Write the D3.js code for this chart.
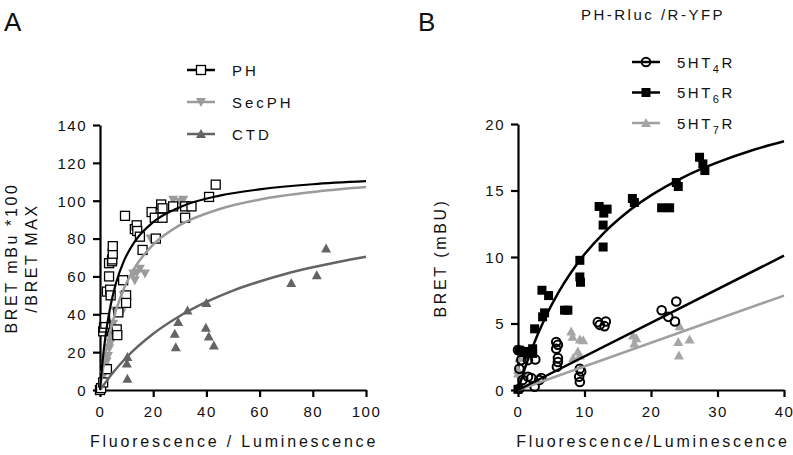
<!DOCTYPE html>
<html><head><meta charset="utf-8">
<script src="https://cdn.jsdelivr.net/npm/d3@7"></script>
<style>
body{margin:0;background:#fff;}
svg{font-family:"Liberation Sans",Arial,sans-serif;}
</style></head>
<body>
<svg id="c" width="793" height="455"></svg>
<script>
// ---------- Panel A data ----------
const phData = [[0,0],[0.4,1],[1.2,4],[2.6,11],[1.2,31],[1.5,33],[2,35],[1.9,38],[2.6,52],[3.8,53],[4,50],[3.4,60],[3.4,67],[4.5,68],[4.6,69],[4.8,72],[4.8,76],[6.3,32],[6.5,29],[6.9,41],[8.7,58],[9.8,50],[9.8,46],[9.4,92],[13.1,85],[13.8,87],[14,84],[15,81],[16,74],[19.4,94],[20.6,91],[21,80],[23,98],[23.5,96],[23.5,91],[27.5,97],[32,97],[32,91],[34.4,97],[41,102],[43.5,108.5]];
const secphData = [[0.5,1],[1,4],[1.5,8],[2,12],[2.5,15],[3,18],[3.5,22],[4,25],[4.3,28],[4.5,31],[5,35],[5.7,42],[8.1,41],[8.9,50],[12.5,61.5],[13.1,58],[13.8,62],[16.9,61.5],[15,64],[19,80],[27.5,100.5],[30,99.5],[31.3,100.5]];
const ctdData = [[10.3,17.4],[10.1,14],[10.3,5.9],[28.1,29.7],[28.5,22.6],[29.4,35.9],[32.9,42],[40,46],[39.8,32.9],[40.9,28.3],[42.8,23.5],[71.9,56.5],[81.5,60.6],[85,74.7]];
// fitted curves
const phFit = [[0,0],[0.5,8.4],[1,15.7],[2,27.6],[3,37.1],[4,44.8],[6,56.4],[9,68.2],[13,78.3],[20,88.7],[30,96.6],[45,102.7],[60,106],[80,108.7],[100,110.3]];
const secphFit = [[0,0],[0.5,5.2],[1,9.9],[2,18.3],[3,25.5],[4,31.7],[6,42],[9,53.6],[13,64.5],[20,76.8],[30,87.1],[45,95.6],[60,100.6],[80,104.6],[100,107.2]];
const ctdFit = [[0,0],[5,9.4],[10,17.3],[20,29.7],[30,39.1],[40,46.5],[50,52.5],[60,57.3],[70,61.4],[80,64.8],[90,67.8],[100,70.4]];
const aXTicks = [0,20,40,60,80,100];
const aYTicks = [0,20,40,60,80,100,120,140];
const aLegend = ["PH","SecPH","CTD"];

// ---------- Panel B data ----------
const ht4Data = [[0,3],[0.7,2.9],[1.2,2.75],[0.5,2.25],[0.2,1.6],[1.5,2.25],[2.6,2.3],[0.7,0.75],[1.5,1.0],[2,0.9],[3.2,0.75],[3.5,0.9],[2.5,0.25],[0.2,0.1],[5.75,3.6],[6,3.4],[5.75,3.1],[6,2.4],[6,2.1],[5.85,1.75],[9.3,1.6],[9.5,1.4],[9.2,1.0],[9.3,0.6],[12,5.1],[13.2,5.15],[13,4.8],[12.3,4.9],[21.6,6.0],[23.8,6.65],[22.6,5.5],[23.6,5.15]];
const ht6Data = [[0,0.05],[0.2,3.0],[1,2.9],[2.2,2.75],[2.2,3.1],[2.5,4.6],[3.7,5.5],[4,5.8],[3.6,7.5],[4.6,7.1],[7,6.0],[7.5,6.0],[9.3,9.75],[9.3,8.5],[9.4,8.1],[12.2,13.8],[13.4,13.6],[12.9,13.3],[12.8,12.4],[12.8,10.75],[17.2,14.4],[17.5,14.1],[21.6,13.7],[22.8,13.7],[23.8,15.6],[24.1,15.3],[27.3,17.5],[27.8,17],[28.1,16.5]];
const ht7Data = [[0.2,2.4],[0,1.5],[0,1.25],[1,1.1],[8,4.4],[8.2,4.0],[9.3,3.8],[9.8,3.75],[9,2.9],[9.3,2.6],[8.3,2.4],[17.3,4.1],[17.8,3.9],[17.5,3.5],[24.3,4.8],[24.1,3.6],[25.8,3.8],[24.2,2.6]];
const ht6Fit = [[0,0],[1,1.58],[2,2.98],[4,5.34],[6,7.26],[8,8.85],[10,10.2],[13,11.86],[16,13.2],[20,14.63],[25,16.03],[30,17.11],[35,17.99],[40,18.7]];
const ht4Fit = [[0,0],[40,10.1]];
const ht7Fit = [[0,0],[40,7.1]];
const bXTicks = [0,10,20,30,40];
const bYTicks = [0,5,10,15,20];
const bLegend = [["5HT","4","R"],["5HT","6","R"],["5HT","7","R"]];

const svg = d3.select("#c");
const BLACK="#000", GRAY="#9b9b9b", DARK="#646464";

function drawMarker(g, type, x, y){
  if(type==="sqOpen") g.append("rect").attr("x",x-4.5).attr("y",y-4.5).attr("width",9).attr("height",9).attr("fill","#fff").attr("stroke",BLACK).attr("stroke-width",1.3);
  else if(type==="sqFill") g.append("rect").attr("x",x-4.5).attr("y",y-4.5).attr("width",9).attr("height",9).attr("fill",BLACK);
  else if(type==="triDown") g.append("path").attr("d",`M${x-5},${y-4}L${x+5},${y-4}L${x},${y+5}Z`).attr("fill",GRAY);
  else if(type==="triUp") g.append("path").attr("d",`M${x-5},${y+4}L${x+5},${y+4}L${x},${y-5}Z`).attr("fill",DARK);
  else if(type==="triUpL") g.append("path").attr("d",`M${x-5},${y+4}L${x+5},${y+4}L${x},${y-5}Z`).attr("fill","#a6a6a6");
  else if(type==="circ") g.append("circle").attr("cx",x).attr("cy",y).attr("r",4.3).attr("fill","none").attr("stroke",BLACK).attr("stroke-width",2);
}

function axes(g, x, y, xt, yt){
  const ax = g.append("g").attr("transform",`translate(0,${y.range()[0]})`)
    .call(d3.axisBottom(x).tickValues(xt).tickSize(7).tickSizeOuter(0).tickPadding(9));
  const ay = g.append("g").attr("transform",`translate(${x.range()[0]},0)`)
    .call(d3.axisLeft(y).tickValues(yt).tickSize(7).tickSizeOuter(0).tickPadding(6));
  [ax,ay].forEach(a=>{
    a.select(".domain").attr("stroke",BLACK).attr("stroke-width",2.2);
    a.selectAll(".tick line").attr("stroke",BLACK).attr("stroke-width",2.2);
    a.selectAll(".tick text").attr("fill","#111").style("font-size","15px").style("letter-spacing","1.5px")
      .style("font-family","'Liberation Sans',Arial,sans-serif");
  });
  ay.selectAll(".tick text").attr("dy","0.36em");
}

// ---------- Panel A ----------
const xA = d3.scaleLinear().domain([0,100]).range([100,366]);
const yA = d3.scaleLinear().domain([0,140]).range([390,125]);
const gA = svg.append("g");
const lineA = d3.line().x(d=>xA(d[0])).y(d=>yA(d[1])).curve(d3.curveMonotoneX);
axes(gA, xA, yA, aXTicks, aYTicks);
const mA = gA.append("g");
ctdData.forEach(d=>drawMarker(mA,"triUp",xA(d[0]),yA(d[1])));
secphData.forEach(d=>drawMarker(mA,"triDown",xA(d[0]),yA(d[1])));
phData.forEach(d=>drawMarker(mA,"sqOpen",xA(d[0]),yA(d[1])));
gA.append("path").datum(ctdFit).attr("d",lineA).attr("fill","none").attr("stroke",DARK).attr("stroke-width",2.5);
gA.append("path").datum(secphFit).attr("d",lineA).attr("fill","none").attr("stroke",GRAY).attr("stroke-width",2.5);
gA.append("path").datum(phFit).attr("d",lineA).attr("fill","none").attr("stroke",BLACK).attr("stroke-width",2.2);

const legA = [["sqOpen",BLACK],["triDown",GRAY],["triUp",DARK]];
aLegend.forEach((t,i)=>{
  const yy = 70 + i*32;
  svg.append("line").attr("x1",187).attr("x2",215).attr("y1",yy).attr("y2",yy).attr("stroke",legA[i][1]).attr("stroke-width",2.5);
  drawMarker(svg, legA[i][0], 201, yy);
  svg.append("text").attr("x",232).attr("y",yy+5.5).text(t).style("font-size","15px").style("letter-spacing","3px").attr("fill","#111");
});

svg.append("text").attr("x",4).attr("y",31).text("A").style("font-size","26px").attr("fill","#111");
svg.append("text").attr("transform","translate(17,258) rotate(-90)").attr("text-anchor","middle")
  .text("BRET mBu *100").style("font-size","16px").style("letter-spacing","2.6px").attr("fill","#111");
svg.append("text").attr("transform","translate(37,258) rotate(-90)").attr("text-anchor","middle")
  .text("/BRET MAX").style("font-size","16px").style("letter-spacing","2.6px").attr("fill","#111");
svg.append("text").attr("x",234).attr("y",447).attr("text-anchor","middle")
  .text("Fluorescence / Luminescence").style("font-size","16px").style("letter-spacing","2.8px").attr("fill","#111");

// ---------- Panel B ----------
const xB = d3.scaleLinear().domain([0,40]).range([518,784]);
const yB = d3.scaleLinear().domain([0,20]).range([390,124]);
const gB = svg.append("g");
const lineB = d3.line().x(d=>xB(d[0])).y(d=>yB(d[1])).curve(d3.curveMonotoneX);
axes(gB, xB, yB, bXTicks, bYTicks);
const mB = gB.append("g");
ht7Data.forEach(d=>drawMarker(mB,"triUpL",xB(d[0]),yB(d[1])));
ht6Data.forEach(d=>drawMarker(mB,"sqFill",xB(d[0]),yB(d[1])));
ht4Data.forEach(d=>drawMarker(mB,"circ",xB(d[0]),yB(d[1])));
gB.append("path").datum(ht7Fit).attr("d",lineB).attr("fill","none").attr("stroke","#a0a0a0").attr("stroke-width",2.5);
gB.append("path").datum(ht4Fit).attr("d",lineB).attr("fill","none").attr("stroke",BLACK).attr("stroke-width",2.5);
gB.append("path").datum(ht6Fit).attr("d",lineB).attr("fill","none").attr("stroke",BLACK).attr("stroke-width",2.5);

const legB = [["circ",BLACK],["sqFill",BLACK],["triUpL","#a0a0a0"]];
bLegend.forEach((t,i)=>{
  const yy = 62 + i*30.5;
  svg.append("line").attr("x1",632).attr("x2",660).attr("y1",yy).attr("y2",yy).attr("stroke",legB[i][1]).attr("stroke-width",2.5);
  drawMarker(svg, legB[i][0], 646, yy);
  const tx = svg.append("text").attr("x",677).attr("y",yy+5.5).style("font-size","15px").style("letter-spacing","2.5px").attr("fill","#111");
  tx.append("tspan").text(t[0]);
  tx.append("tspan").attr("dy",5).style("font-size","11px").text(t[1]);
  tx.append("tspan").attr("dy",-5).text(t[2]);
});

svg.append("text").attr("x",418).attr("y",31).text("B").style("font-size","26px").attr("fill","#111");
svg.append("text").attr("x",653).attr("y",20).attr("text-anchor","middle")
  .text("PH-Rluc /R-YFP").style("font-size","15px").style("letter-spacing","2.5px").attr("fill","#111");
svg.append("text").attr("transform","translate(446,258) rotate(-90)").attr("text-anchor","middle")
  .text("BRET (mBU)").style("font-size","16px").style("letter-spacing","2.6px").attr("fill","#111");
svg.append("text").attr("x",653).attr("y",447).attr("text-anchor","middle")
  .text("Fluorescence/Luminescence").style("font-size","16px").style("letter-spacing","2.8px").attr("fill","#111");
</script>
</body></html>
